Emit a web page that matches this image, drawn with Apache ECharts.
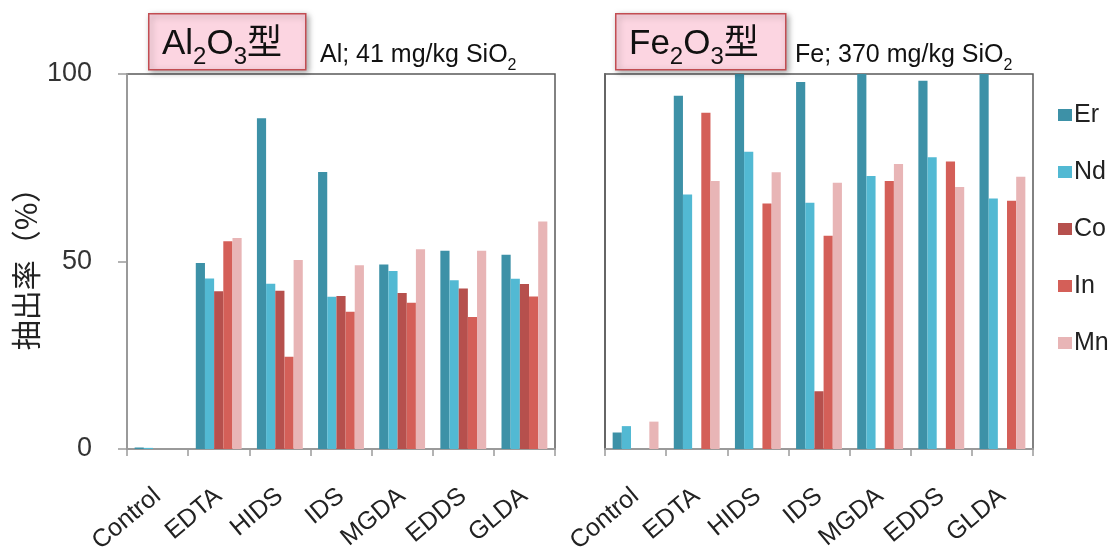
<!DOCTYPE html>
<html>
<head>
<meta charset="utf-8">
<script src="https://cdn.jsdelivr.net/npm/echarts@6/dist/echarts.min.js"></script>
<style>
  html, body { margin: 0; padding: 0; background: #fff; }
  #chart { width: 1119px; height: 557px; }
</style>
</head>
<body>
<div id="chart"></div>
<script>
// Chelating agents on the category axis
const categories = ['Control', 'EDTA', 'HIDS', 'IDS', 'MGDA', 'EDDS', 'GLDA'];
const metals = ['Er', 'Nd', 'Co', 'In', 'Mn'];
const yTicks = [0, 50, 100];

// Extraction rate (%) from the Al2O3-type sample
const alEr = [0.4, 49.6, 88.2, 73.9, 49.2, 52.9, 51.8];
const alNd = [0.3, 45.5, 44.1, 40.6, 47.5, 45.0, 45.4];
const alCo = [0, 42.1, 42.2, 40.8, 41.6, 42.8, 44.0];
const alIn = [0, 55.4, 24.6, 36.6, 39.0, 35.2, 40.7];
const alMn = [0, 56.3, 50.4, 49.0, 53.3, 52.9, 60.7];

// Extraction rate (%) from the Fe2O3-type sample
const feEr = [4.4, 94.2, 100, 97.9, 100, 98.2, 100];
const feNd = [6.1, 67.9, 79.3, 65.7, 72.8, 77.8, 66.8];
const feCo = [0, 0, 0, 15.4, 0, 0, 0];
const feIn = [0, 89.7, 65.5, 56.9, 71.5, 76.7, 66.2];
const feMn = [7.3, 71.5, 73.8, 71.0, 76.0, 69.9, 72.6];

const colors = ['#3d91a7', '#52b9d3', '#b6504d', '#d45f58', '#e8b5b6'];
const latin = '"Liberation Sans", Arial, sans-serif';
const cjk = '"Liberation Sans", "Noto Sans CJK JP", sans-serif';
const cjkOnly = '"Noto Sans CJK JP", sans-serif';

const alData = [alEr, alNd, alCo, alIn, alMn];
const feData = [feEr, feNd, feCo, feIn, feMn];

function xAxisFor(gridIndex) {
  return {
    type: 'category',
    gridIndex: gridIndex,
    data: categories,
    boundaryGap: true,
    axisLine: { show: true, lineStyle: { color: '#9a9a9a', width: 2 } },
    axisTick: { show: true, length: 7, lineStyle: { color: '#9a9a9a', width: 1.5 } },
    axisLabel: {
      rotate: 40, margin: 44, fontSize: 25, color: '#222', fontFamily: latin
    }
  };
}

function yAxisFor(gridIndex, withLabels) {
  return {
    type: 'value',
    gridIndex: gridIndex,
    min: 0, max: 100, interval: 50,
    name: withLabels ? '抽出率（%）' : '',
    nameLocation: 'middle',
    nameRotate: 90,
    nameGap: 86,
    nameTextStyle: { fontSize: 30, color: '#222', fontFamily: cjkOnly },
    axisLine: { show: true, lineStyle: { color: withLabels ? '#9a9a9a' : '#666', width: 2 } },
    axisTick: { show: withLabels, length: 9, lineStyle: { color: '#9a9a9a', width: 1.5 } },
    axisLabel: {
      show: withLabels, fontSize: 27, color: '#333', margin: 35, fontFamily: latin,
      formatter: v => yTicks.includes(v) ? String(v) : ''
    },
    splitLine: { show: false }
  };
}

function seriesFor(gridIndex, data) {
  return metals.map((m, i) => ({
    name: m,
    type: 'bar',
    xAxisIndex: gridIndex,
    yAxisIndex: gridIndex,
    data: data[i],
    barGap: '0%',
    barCategoryGap: '25%',
    itemStyle: { color: colors[i] },
    emphasis: { disabled: true }
  }));
}

// Boxed title with subscripts, plus the concentration note beside it
function titleBlock(x, boxW, text, note, noteX) {
  return [
    {
      type: 'rect', left: x, top: 13, z: 10,
      shape: { width: boxW, height: 56 },
      style: {
        fill: '#fcd5e1', stroke: '#c24d52', lineWidth: 1.5,
        shadowBlur: 6, shadowOffsetX: 2, shadowOffsetY: 2, shadowColor: 'rgba(0,0,0,0.35)'
      }
    },
    {
      type: 'text', left: x + 14, top: 27, z: 11,
      style: {
        text: text,
        rich: {
          m: { fontSize: 35, lineHeight: 34, fontFamily: cjk, fill: '#111', verticalAlign: 'middle' },
          s: { fontSize: 24, lineHeight: 20, fontFamily: latin, fill: '#111', verticalAlign: 'bottom', padding: [0, 0, -8, 0] }
        }
      }
    },
    {
      type: 'text', left: noteX, top: 43, z: 11,
      style: {
        text: note,
        rich: {
          m: { fontSize: 25, lineHeight: 24, fontFamily: latin, fill: '#111', verticalAlign: 'middle' },
          s: { fontSize: 16, lineHeight: 14, fontFamily: latin, fill: '#111', verticalAlign: 'bottom', padding: [0, 0, -6, 0] }
        }
      }
    }
  ];
}

const chart = echarts.init(document.getElementById('chart'), null, { renderer: 'canvas' });

chart.setOption({
  animation: false,
  color: colors,
  grid: [
    { left: 127, top: 74, width: 428, height: 375, show: true, borderColor: '#5a5a5a', borderWidth: 1.5, backgroundColor: 'transparent' },
    { left: 605, top: 74, width: 428, height: 375, show: true, borderColor: '#5a5a5a', borderWidth: 1.5, backgroundColor: 'transparent' }
  ],
  xAxis: [xAxisFor(0), xAxisFor(1)],
  yAxis: [yAxisFor(0, true), yAxisFor(1, false)],
  legend: {
    data: metals,
    orient: 'vertical',
    left: 1053,
    top: 95,
    icon: 'rect',
    itemWidth: 14,
    itemHeight: 12,
    itemGap: 27,
    textStyle: { fontSize: 25, lineHeight: 30, color: '#222', fontFamily: latin, padding: [0, 0, 0, -3] },
    selectedMode: false
  },
  series: [...seriesFor(0, alData), ...seriesFor(1, feData)],
  graphic: [
    ...titleBlock(148, 157, '{m|Al}{s|2}{m|O}{s|3}{m|型}',
      '{m|Al; 41 mg/kg SiO}{s|2}', 320),
    ...titleBlock(615, 170, '{m|Fe}{s|2}{m|O}{s|3}{m|型}',
      '{m|Fe; 370 mg/kg SiO}{s|2}', 795)
  ]
});
</script>
</body>
</html>
